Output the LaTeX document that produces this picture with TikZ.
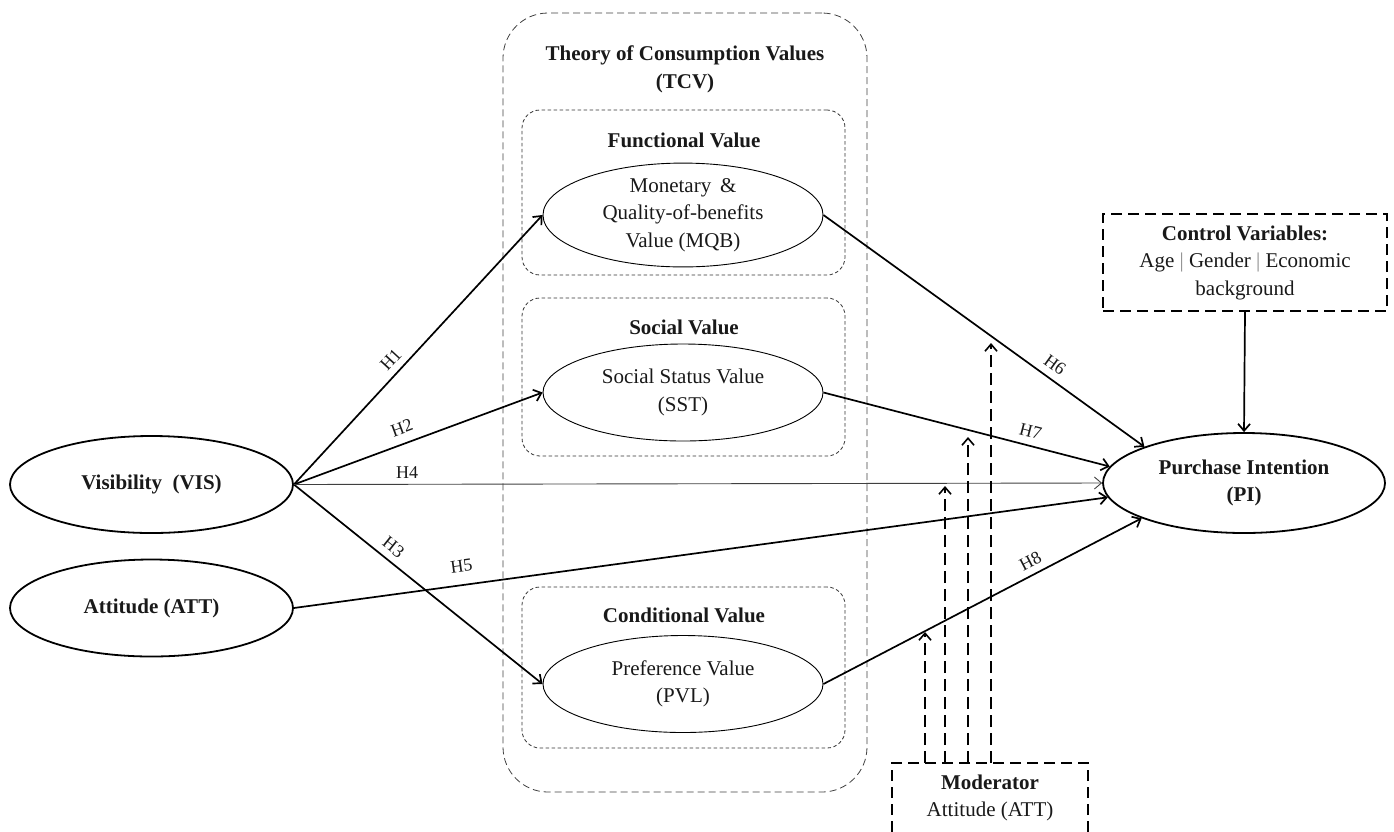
\documentclass[tikz,border=0pt]{standalone}
\usepackage{fontspec}
\setmainfont{Liberation Serif}
\usetikzlibrary{shapes.geometric,arrows.meta}
\begin{document}
\begin{tikzpicture}[x=1pt,y=-1pt,
  every node/.style={font=\fontsize{21}{27.5}\selectfont, align=center, text=black!90},
  bigell/.style={ellipse, draw, line width=1.8pt, minimum width=283pt, minimum height=97pt, inner sep=0pt, font=\fontsize{21}{27.5}\selectfont\bfseries},
  smallell/.style={ellipse, draw, line width=0.9pt, minimum width=280pt, minimum height=97pt, inner sep=0pt},
  groupbox/.style={draw=black!80, line width=0.8pt, dash pattern=on 3.5pt off 2.5pt, rounded corners=18pt, inner sep=0pt},
  tcvbox/.style={draw=black!75, line width=0.8pt, dash pattern=on 7pt off 4pt, rounded corners=45pt, inner sep=0pt},
  heavybox/.style={draw, line width=1.7pt, dash pattern=on 11pt off 6pt, inner sep=0pt},
  ttl/.style={font=\fontsize{21}{28}\selectfont\bfseries},
  arr/.style={-{Straight Barb[length=7pt,width=12pt]}, line width=1.7pt},
  thinarr/.style={-{Straight Barb[length=7pt,width=12pt]}, line width=0.9pt, draw=black!75},
  modarr/.style={-{Straight Barb[length=7pt,width=12pt]}, line width=1.6pt, dash pattern=on 12pt off 6pt},
  lab/.style={font=\fontsize{18}{20}\selectfont, sloped, inner sep=2pt}
]
\useasboundingbox (0,0) rectangle (1394,831);
\clip (0,0) rectangle (1394,831);

% TCV container and groups
\node[tcvbox, minimum width=364pt, minimum height=779pt] (TCV) at (685,402.5) {};
\node[ttl] (TCVt) at (685,69) {Theory of Consumption Values\\(TCV)};

\node[groupbox, minimum width=323pt, minimum height=165pt] (FVbox) at (683.5,192.5) {};
\node[ttl] (FVt) at (684,140) {Functional Value};
\node[groupbox, minimum width=323pt, minimum height=158pt] (SVbox) at (683.5,377) {};
\node[ttl] (SVt) at (684,327) {Social Value};
\node[groupbox, minimum width=323pt, minimum height=161pt] (CVbox) at (683.5,667.5) {};
\node[ttl] (CVt) at (684,615) {Conditional Value};

% constructs
\node[smallell] (MQB) at (683,215) {Monetary \,\&\\Quality-of-benefits\\Value (MQB)};
\node[smallell] (SST) at (683,392.5) {Social Status Value\\(SST)};
\node[smallell] (PVL) at (683,684) {Preference Value\\(PVL)};

\node[bigell] (VIS) at (151.5,484.5) {Visibility \ (VIS)};
\node[bigell] (ATT) at (151.5,608) {Attitude (ATT)};
\node[bigell, minimum width=282pt, minimum height=100pt] (PI) at (1244,483) {Purchase Intention\\(PI)};

\node[heavybox, minimum width=284pt, minimum height=97pt] (CV) at (1245,262.5)
  {\textbf{Control Variables:}\\Age \textcolor{black!45}{|} Gender \textcolor{black!45}{|} Economic\\background};

\node[heavybox, minimum width=196pt, minimum height=94pt] (MODbox) at (990,810) {};
\node (MOD) at (990,798) {\textbf{Moderator}\\Attitude (ATT)};

% paths
\draw[arr] (VIS.east) -- node[lab, pos=0.429, above=4.5pt] {H1} (MQB.west);
\draw[arr] (VIS.east) -- node[lab, pos=0.456, above=7pt] {H2} (SST.west);
\draw[arr] (VIS.east) -- node[lab, pos=0.367, above=4.5pt] {H3} (PVL.west);
\draw[thinarr] (VIS.east) -- node[lab, pos=0.14, above=3pt] {H4} (PI.west);
\draw[arr] (ATT.east) -- node[lab, pos=0.209, above=10pt] {H5} (PI.186.9);
\draw[arr] (MQB.east) -- node[lab, pos=0.696, above=5pt] {H6} (PI.160.4);
\draw[arr] (SST.east) -- node[lab, pos=0.711, above=5.5pt] {H7} (PI.173.5);
\draw[arr] (PVL.east) -- node[lab, pos=0.669, above=4pt] {H8} (PI.199.1);
\draw[arr] (CV.south) -- (PI.north);

% moderator effects
\coordinate (m1) at (925,763);
\coordinate (m2) at (945,763);
\coordinate (m3) at (968,763);
\coordinate (m4) at (991,763);
\coordinate (t1) at (925,632);
\coordinate (t2) at (945,486);
\coordinate (t3) at (968,437);
\coordinate (t4) at (991,343);
\draw[modarr] (m1) -- (t1);
\draw[modarr] (m2) -- (t2);
\draw[modarr] (m3) -- (t3);
\draw[modarr] (m4) -- (t4);
\end{tikzpicture}
\end{document}
